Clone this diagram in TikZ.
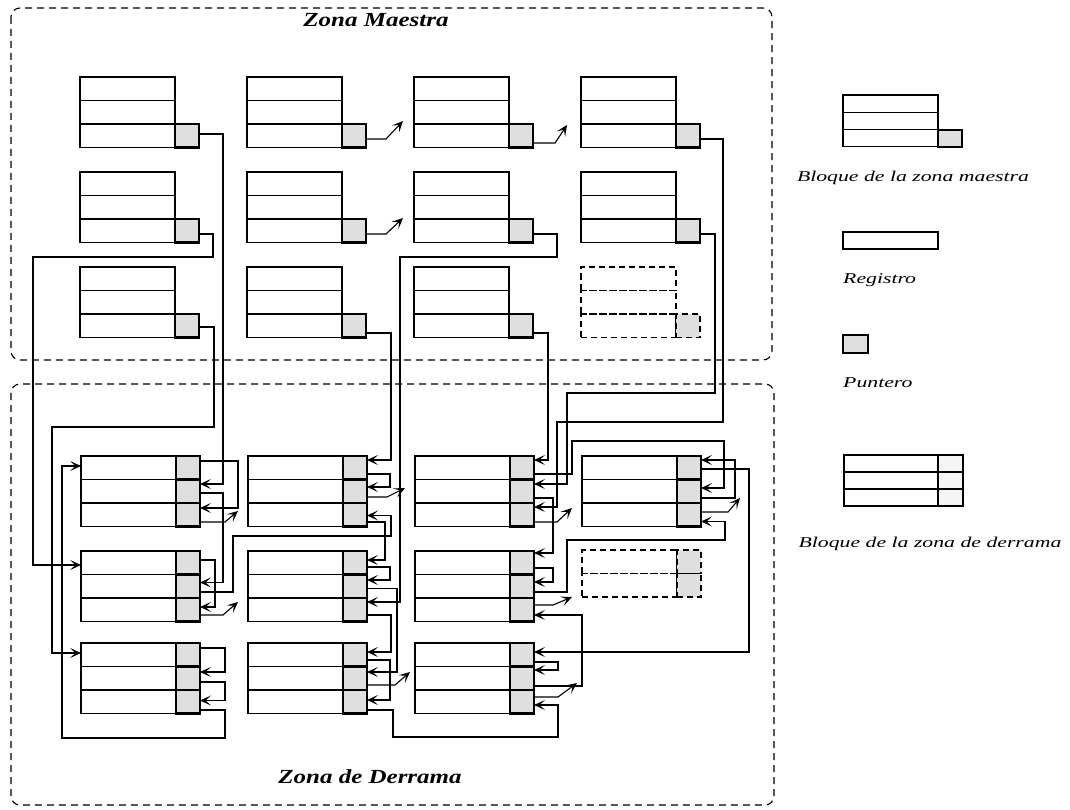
\documentclass[tikz,border=0pt]{standalone}
\usepackage{fontspec}
\usepackage{graphicx}
\setmainfont{Liberation Serif}
\usetikzlibrary{arrows.meta,calc}
\newcommand\mblk[4]{%
  \foreach \i in {1,2,3}{\node[#1rec, anchor=north west] (#2r\i) at (#3,{#4+(\i-1)*23.5}) {};}
  \node[#1ptr, anchor=north west] (#2p) at ({#3+95},{#4+47}) {};}
\newcommand\oblk[5]{%
  \foreach \i in {1,...,#5}{%
    \node[#1rec, anchor=north west] (#2r\i) at (#3,{#4+(\i-1)*23.5}) {};
    \node[#1ptr, anchor=north west] (#2p\i) at ({#3+95},{#4+(\i-1)*23.5}) {};}}
\begin{document}
\begin{tikzpicture}[x=1pt,y=-1pt,
  rec/.style={draw, line width=1.4pt, minimum width=95pt, minimum height=23.5pt, inner sep=0pt, outer sep=0pt},
  ptr/.style={draw, line width=2.1pt, fill=gray!25, minimum width=24pt, minimum height=23.5pt, inner sep=0pt, outer sep=0pt},
  ghostrec/.style={rec, dash pattern=on 6pt off 4pt},
  ghostptr/.style={ptr, line width=1.6pt, dash pattern=on 6pt off 4pt},
  zone/.style={draw, line width=1.1pt, dash pattern=on 7pt off 5pt, rounded corners=9pt},
  conn/.style={line width=1.1pt},
  arr/.style={conn, -{Stealth[length=11pt,width=10pt,inset=5.5pt]}},
  title/.style={font=\fontsize{20}{24}\selectfont\bfseries\itshape, inner sep=0pt},
  legend/.style={font=\fontsize{15}{18}\selectfont\itshape, inner sep=0pt}
]
\useasboundingbox (0,0) rectangle (1070,810);
% zones
\draw[zone] (11,8) rectangle (772,360);
\draw[zone] (11,384) rectangle (774,805);
\node[title] (tzm) at (376,20) {\scalebox{1.25}[1]{Zona Maestra}};
\node[title] (tzd) at (370,777) {\scalebox{1.25}[1]{Zona de Derrama}};
% master blocks
\mblk{}{M11}{80}{77}  \mblk{}{M12}{247}{77}  \mblk{}{M13}{414}{77}  \mblk{}{M14}{581}{77}
\mblk{}{M21}{80}{172} \mblk{}{M22}{247}{172} \mblk{}{M23}{414}{172} \mblk{}{M24}{581}{172}
\mblk{}{M31}{80}{267} \mblk{}{M32}{247}{267} \mblk{}{M33}{414}{267} \mblk{ghost}{M34}{581}{267}
% overflow blocks
\oblk{}{O11}{81}{456}{3}  \oblk{}{O12}{248}{456}{3}  \oblk{}{O13}{415}{456}{3}  \oblk{}{O14}{582}{456}{3}
\oblk{}{O21}{81}{551}{3}  \oblk{}{O22}{248}{551}{3}  \oblk{}{O23}{415}{551}{3}  \oblk{ghost}{O24}{582}{550}{2}
\oblk{}{O31}{81}{643}{3}  \oblk{}{O32}{248}{643}{3}  \oblk{}{O33}{415}{643}{3}
% master connectors
\draw[arr] ([yshift=-10pt]M11p.north east) -- ++(24,0) |- ([yshift=-4.5pt]O11p2.north east);
\draw[arr] ([yshift=-15pt]M21p.north east) -- ++(14,0) |- (33,257) |- ([yshift=-14pt]O21r1.north west);
\draw[arr] ([yshift=-13pt]M31p.north east) -- ++(15,0) |- (52,427) |- ([yshift=-10pt]O31r1.north west);
\draw[arr] ([yshift=-15pt]M12p.north east) -- ++(20,0) -- ++(17,-18);
\draw[arr] ([yshift=-19pt]M13p.north east) -- ++(22,0) -- ++(12,-18);
\draw[arr] ([yshift=-15pt]M14p.north east) -- ++(23,0) |- (557,422) |- ([yshift=-4pt]O13p3.north east);
\draw[arr] ([yshift=-15pt]M22p.north east) -- ++(20,0) -- ++(17,-16);
\draw[arr] ([yshift=-15pt]M23p.north east) -- ++(24,0) |- (400,257) |- ([yshift=-4pt]O22p3.north east);
\draw[arr] ([yshift=-15pt]M24p.north east) -- ++(15,0) |- (567,393) |- ([yshift=-4.5pt]O13p2.north east);
\draw[arr] ([yshift=-19pt]M32p.north east) -- ++(25,0) |- ([yshift=-4pt]O12p1.north east);
\draw[arr] ([yshift=-19pt]M33p.north east) -- ++(15,0) |- ([yshift=-4pt]O13p1.north east);
% overflow connectors, column 1
\draw[arr] ([yshift=-5pt]O11p1.north east) -- ++(38,0) |- ([yshift=-5pt]O11p3.north east);
\draw[arr] ([yshift=-13.5pt]O11p2.north east) -- ++(23,0) |- ([yshift=-8pt]O21p2.north east);
\draw[arr] ([yshift=-19pt]O11p3.north east) -- ++(25,0) -- ++(13,-11);
\draw[arr] ([yshift=-9pt]O21p1.north east) -- ++(15,0) |- ([yshift=-9pt]O21p3.north east);
\draw[arr] ([yshift=-17.5pt]O21p2.north east) -- ++(33,0) |- (391,536) |- ([yshift=-12.5pt]O12p3.north east);
\draw[arr] ([yshift=-17pt]O21p3.north east) -- ++(23,0) -- ++(15,-13);
\draw[arr] ([yshift=-5pt]O31p1.north east) -- ++(25,0) |- ([yshift=-5.5pt]O31p2.north east);
\draw[arr] ([yshift=-15.5pt]O31p2.north east) -- ++(25,0) |- ([yshift=-10.5pt]O31p3.north east);
\draw[arr] ([yshift=-20pt]O31p3.north east) -- ++(25,0) |- (62,738) |- ([yshift=-10pt]O11r1.north west);
% column 2
\draw[arr] ([yshift=-18pt]O12p1.north east) -- ++(23,0) |- ([yshift=-7.5pt]O12p2.north east);
\draw[arr] ([yshift=-17.5pt]O12p2.north east) -- ++(20,0) -- ++(18,-9);
\draw[arr] ([yshift=-19pt]O12p3.north east) -- ++(18,0) |- ([yshift=-9pt]O22p1.north east);
\draw[arr] ([yshift=-16pt]O22p1.north east) -- ++(23,0) |- ([yshift=-5.5pt]O22p2.north east);
\draw[arr] ([yshift=-14pt]O22p2.north east) -- ++(30,0) |- ([yshift=-5.5pt]O32p2.north east);
\draw[arr] ([yshift=-17pt]O22p3.north east) -- ++(24,0) |- ([yshift=-9pt]O32p1.north east);
\draw[arr] ([yshift=-17pt]O32p1.north east) -- ++(23,0) |- ([yshift=-10pt]O32p3.north east);
\draw[arr] ([yshift=-18.5pt]O32p2.north east) -- ++(28,0) -- ++(15,-13);
\draw[arr] ([yshift=-20pt]O32p3.north east) -- ++(26,0) |- (558,737) |- ([yshift=-15pt]O33p3.north east);
% column 3
\draw[arr] ([yshift=-18pt]O13p1.north east) -- ++(38,0) |- (724,441) |- ([yshift=-8.5pt]O14p2.north east);
\draw[arr] ([yshift=-18.5pt]O13p2.north east) -- ++(19,0) |- ([yshift=-2pt]O23p1.north east);
\draw[arr] ([yshift=-19pt]O13p3.north east) -- ++(23,0) -- ++(15,-14);
\draw[arr] ([yshift=-17pt]O23p1.north east) -- ++(19,0) |- ([yshift=-7.5pt]O23p2.north east);
\draw[arr] ([yshift=-17.5pt]O23p2.north east) -- ++(33,0) |- (725,540) |- ([yshift=-18.5pt]O14p3.north east);
\draw[arr] ([yshift=-7pt]O23p3.north east) -- ++(19,0) -- ++(19,-8);
\draw[arr] ([yshift=-19.5pt]O33p2.north east) -- ++(48,0) |- ([yshift=-17pt]O23p3.north east);
\draw[arr] ([yshift=-19pt]O33p1.north east) -- ++(24,0) |- ([yshift=-3.5pt]O33p2.north east);
\draw[arr] ([yshift=-7pt]O33p3.north east) -- ++(24,0) -- ++(19,-14);
% column 4
\draw[arr] ([yshift=-13pt]O14p1.north east) -- ++(48,0) |- ([yshift=-9pt]O33p1.north east);
\draw[arr] ([yshift=-18.5pt]O14p2.north east) -- ++(34,0) |- ([yshift=-4pt]O14p1.north east);
\draw[arr] ([yshift=-9pt]O14p3.north east) -- ++(27,0) -- ++(12,-14);
% legend
\foreach \i in {1,2,3}{\node[rec, line width=1.2pt, minimum height=17.3pt, anchor=north west] (LMr\i) at (843,{95+(\i-1)*17.3}) {};}
\node[ptr, minimum height=17.3pt, anchor=north west] (LMp) at (938,129.6) {};
\node[legend] (tLM) at (913,178) {\scalebox{1.45}[1]{Bloque de la zona maestra}};
\node[rec, line width=1.2pt, minimum height=17pt, anchor=north west] (LR) at (843,232) {};
\node[legend, anchor=west] (tLR) at (843,280) {\scalebox{1.45}[1]{Registro}};
\node[ptr, minimum width=25pt, minimum height=18pt, anchor=north west] (LP) at (843,335) {};
\node[legend, anchor=west] (tLP) at (843,383) {\scalebox{1.45}[1]{Puntero}};
\foreach \i in {1,2,3}{%
  \node[rec, line width=1.2pt, minimum width=94pt, minimum height=17pt, anchor=north west] (LDr\i) at (844,{455+(\i-1)*17}) {};
  \node[ptr, line width=1.6pt, fill=gray!8, minimum width=25pt, minimum height=17pt, anchor=north west] (LDp\i) at (938,{455+(\i-1)*17}) {};}
\node[legend] (tLD) at (930,544) {\scalebox{1.45}[1]{Bloque de la zona de derrama}};
\end{tikzpicture}
\end{document}
